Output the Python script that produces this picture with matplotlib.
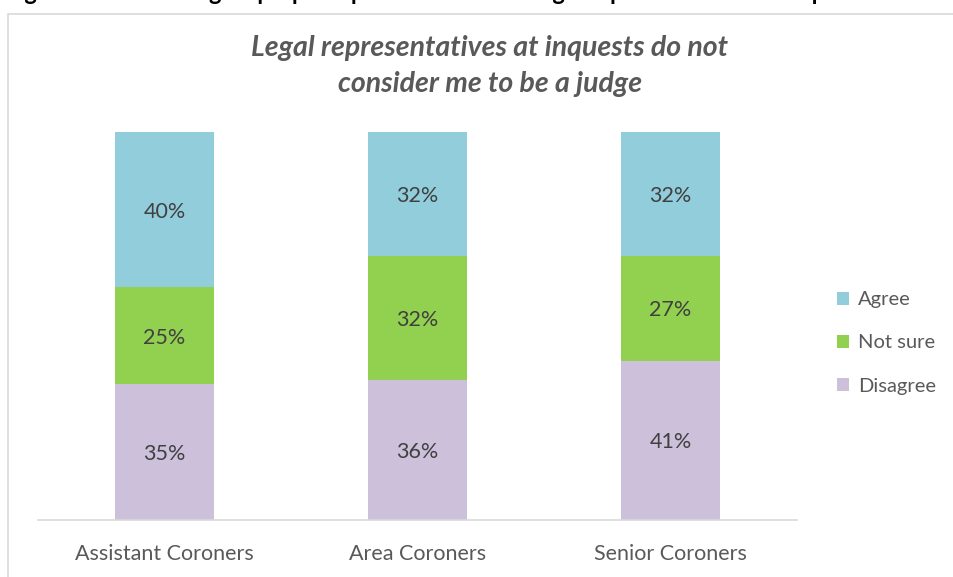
import matplotlib.pyplot as plt
from matplotlib.patches import Rectangle

groups = ["Assistant Coroners", "Area Coroners", "Senior Coroners"]
disagree = [35, 36, 41]
not_sure = [25, 32, 27]
agree = [40, 32, 32]

series = [("Disagree", disagree, "#CCC0DA"),
          ("Not sure", not_sure, "#92D050"),
          ("Agree", agree, "#92CDDC")]

plt.rcParams['font.family'] = ['Lato', 'DejaVu Sans']

fig = plt.figure(figsize=(9.54, 5.77), dpi=100)

# chart frame
fig.patches.append(Rectangle((8/954, -0.1), 1.1, 1 - 14/577 + 0.1, transform=fig.transFigure,
                             fill=False, edgecolor="#D9D9D9", linewidth=1.2))

# caption running off the top of the page
fig.text(5/954, 1.0, "Figure 12: Coroner groups' perception of whether legal representatives at inquests consider them to be a judge",
         fontsize=17, fontweight='bold', color='black', va='baseline', ha='left')

ax = fig.add_axes([38/954, 57/577, 759/954, 388/577])

x = range(len(groups))
bottom = [0] * len(groups)
handles = []
for name, vals, col in series:
    b = ax.bar(x, vals, width=0.395, bottom=bottom, color=col, label=name)
    handles.append(b)
    for i, v in enumerate(vals):
        ax.text(i, bottom[i] + v / 2 - 0.5, f"{v}%", ha='center', va='center',
                fontsize=15.5, color='#404040')
    bottom = [bottom[i] + vals[i] for i in range(len(vals))]

ax.set_xlim(-0.5, 2.5)
ax.set_ylim(0, 100)
ax.set_yticks([])
ax.set_xticks(list(x))
ax.set_xticklabels(groups, fontsize=15.5, color='#595959')
ax.tick_params(axis='x', length=0, pad=17)
for s in ['top', 'right', 'left']:
    ax.spines[s].set_visible(False)
ax.spines['bottom'].set_color('#D9D9D9')
ax.spines['bottom'].set_linewidth(1.2)

fig.text(490/954, 1 - 66/577, "Legal representatives at inquests do not\nconsider me to be a judge",
         ha='center', va='center', fontsize=20.5, fontweight='bold', style='italic',
         color='#595959', linespacing=1.5)

ax.legend(handles[::-1], [s[0] for s in series][::-1], loc='center left',
          bbox_to_anchor=(837/954, 1 - 343/577), bbox_transform=fig.transFigure,
          borderaxespad=0, borderpad=0,
          frameon=False, fontsize=14.5, labelcolor='#595959', handlelength=0.6,
          handleheight=0.6, handletextpad=0.45, labelspacing=1.3)

fig.savefig("out.png", dpi=100)
